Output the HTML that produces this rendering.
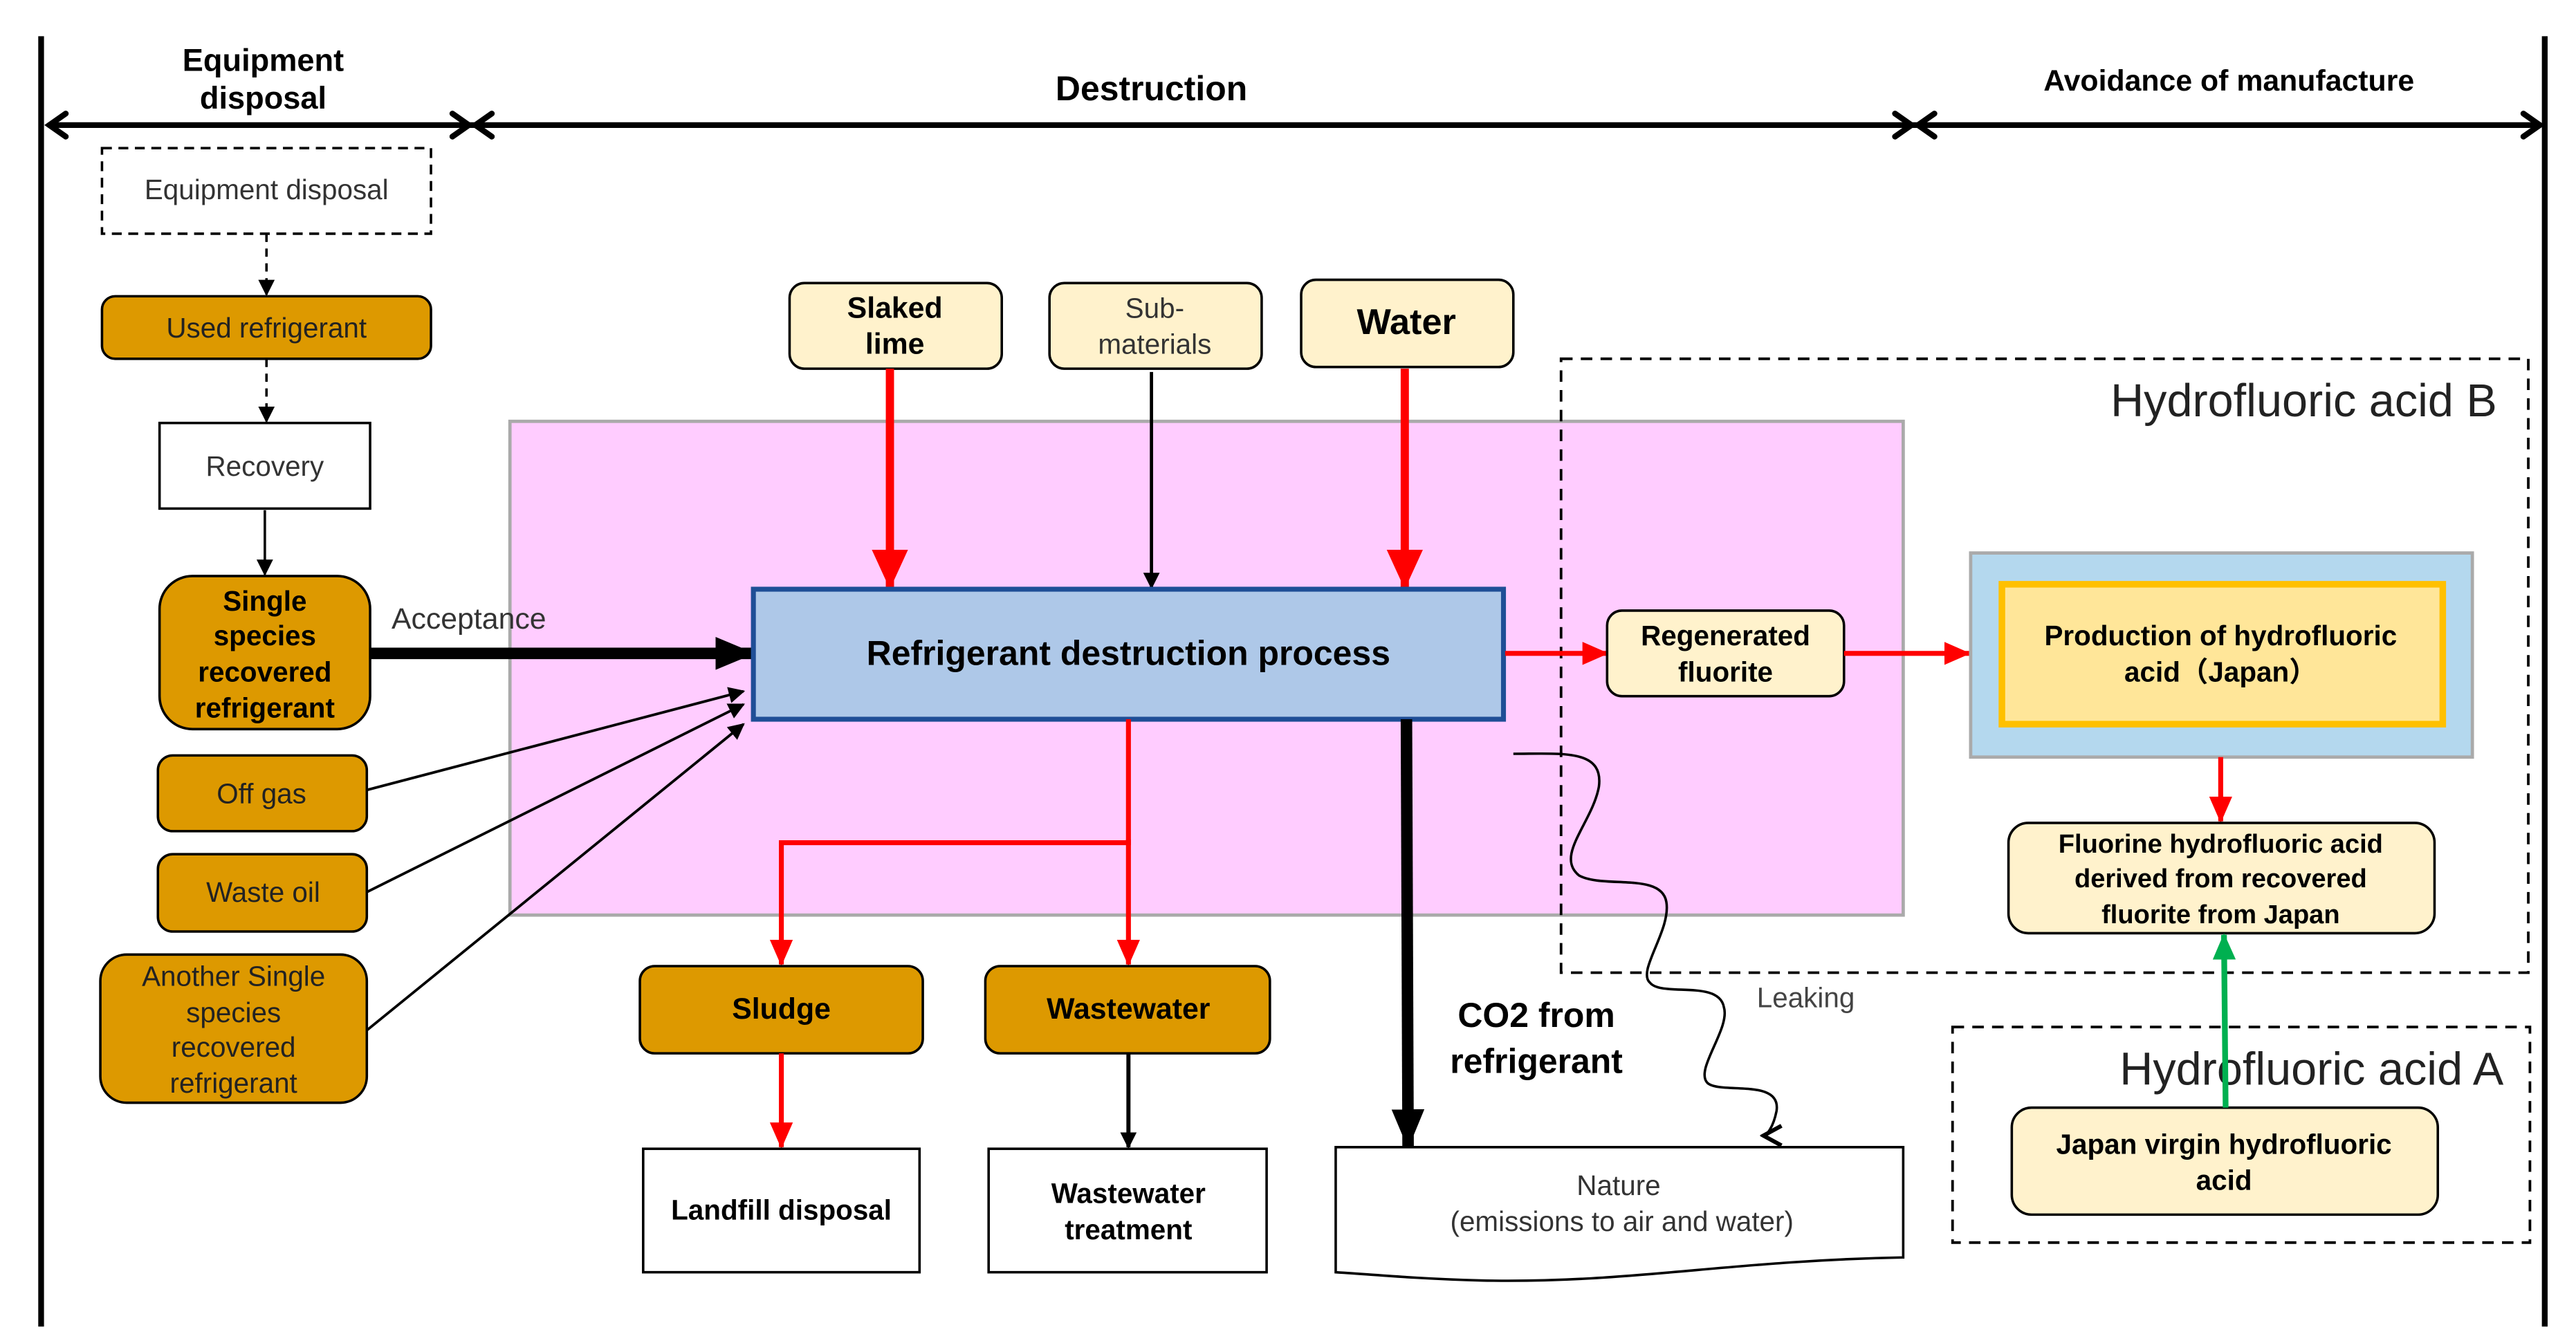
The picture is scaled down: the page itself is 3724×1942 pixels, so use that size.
<!DOCTYPE html>
<html><head><meta charset="utf-8"><style>
html,body{margin:0;padding:0;background:#fff;}
svg{display:block;}
text{font-family:"Liberation Sans","Noto Sans CJK JP",sans-serif;}
</style></head><body>
<svg width="3724" height="1942" viewBox="0 0 1566 816" preserveAspectRatio="none" xmlns="http://www.w3.org/2000/svg">
<defs>
<marker id="ab" markerWidth="10" markerHeight="10" refX="9" refY="5" orient="auto" markerUnits="userSpaceOnUse"><path d="M0,0 L10,5 L0,10 z" fill="#000"/></marker>
<marker id="abig" markerWidth="24" markerHeight="20" refX="23" refY="10" orient="auto" markerUnits="userSpaceOnUse"><path d="M0,0 L24,10 L0,20 z" fill="#000"/></marker>
<marker id="ar" markerWidth="16" markerHeight="14" refX="15" refY="7" orient="auto" markerUnits="userSpaceOnUse"><path d="M0,0 L16,7 L0,14 z" fill="#f00"/></marker>
<marker id="arb" markerWidth="24" markerHeight="22" refX="23" refY="11" orient="auto" markerUnits="userSpaceOnUse"><path d="M0,0 L24,11 L0,22 z" fill="#f00"/></marker>
<marker id="ag" markerWidth="16" markerHeight="14" refX="15" refY="7" orient="auto" markerUnits="userSpaceOnUse"><path d="M0,0 L16,7 L0,14 z" fill="#00b050"/></marker>
<marker id="open" markerWidth="14" markerHeight="14" refX="12" refY="7" orient="auto" markerUnits="userSpaceOnUse"><path d="M1,1 L12,7 L1,13" fill="none" stroke="#000" stroke-width="2.5"/></marker>
</defs>
<line x1="25" y1="22" x2="25" y2="806" stroke="#000" stroke-width="3.5"/>
<line x1="1547" y1="22" x2="1547" y2="806" stroke="#000" stroke-width="3.5"/>
<g stroke="#000" stroke-width="3.5" fill="none" stroke-linecap="round">
<line x1="30" y1="76" x2="1544" y2="76"/>
<polyline points="40,69 30,76 40,83"/>
<polyline points="275,69 285,76 275,83"/>
<polyline points="299,69 289,76 299,83"/>
<polyline points="1152,69 1162,76 1152,83"/>
<polyline points="1176,69 1166,76 1176,83"/>
<polyline points="1534,69 1544,76 1534,83"/>
</g>
<text x="160" y="43" font-size="19" font-weight="bold" text-anchor="middle">Equipment</text>
<text x="160" y="66" font-size="19" font-weight="bold" text-anchor="middle">disposal</text>
<text x="700" y="61" font-size="21" font-weight="bold" text-anchor="middle">Destruction</text>
<text x="1355" y="55" font-size="18" font-weight="bold" text-anchor="middle">Avoidance of manufacture</text>

<rect x="310" y="256" width="847" height="300" fill="#ffccff" stroke="#aaa" stroke-width="2"/>
<rect x="949" y="218" width="588" height="373" fill="none" stroke="#000" stroke-width="1.6" stroke-dasharray="7,5"/>
<text x="1518" y="253" font-size="28" text-anchor="end" fill="#222">Hydrofluoric acid B</text>
<rect x="1187" y="624" width="351" height="131" fill="none" stroke="#000" stroke-width="1.6" stroke-dasharray="7,5"/>
<text x="1522" y="659" font-size="28" text-anchor="end" fill="#222">Hydrofluoric acid A</text>

<rect x="62" y="90" width="200" height="52" fill="#fff" stroke="#000" stroke-width="1.5" stroke-dasharray="6,4"/>
<text x="162" y="121" font-size="17" text-anchor="middle" fill="#333">Equipment disposal</text>
<line x1="162" y1="142" x2="162" y2="179" stroke="#000" stroke-width="1.5" stroke-dasharray="5,4" marker-end="url(#ab)"/>
<rect x="62" y="180" width="200" height="38" rx="8" fill="#dd9900" stroke="#000" stroke-width="1.5"/>
<text x="162" y="205" font-size="17" text-anchor="middle" fill="#222">Used refrigerant</text>
<line x1="162" y1="218" x2="162" y2="256" stroke="#000" stroke-width="1.5" stroke-dasharray="5,4" marker-end="url(#ab)"/>
<rect x="97" y="257" width="128" height="52" fill="#fff" stroke="#000" stroke-width="1.5"/>
<text x="161" y="289" font-size="17" text-anchor="middle" fill="#333">Recovery</text>
<line x1="161" y1="310" x2="161" y2="349" stroke="#000" stroke-width="1.5" marker-end="url(#ab)"/>
<rect x="97" y="350" width="128" height="93" rx="20" fill="#dd9900" stroke="#000" stroke-width="1.5"/>
<g font-size="17" font-weight="bold" text-anchor="middle"><text x="161" y="371">Single</text><text x="161" y="392">species</text><text x="161" y="414">recovered</text><text x="161" y="436">refrigerant</text></g>
<text x="238" y="382" font-size="18" fill="#333">Acceptance</text>
<line x1="225" y1="397" x2="458" y2="397" stroke="#000" stroke-width="7" marker-end="url(#abig)"/>
<rect x="96" y="459" width="127" height="46" rx="9" fill="#dd9900" stroke="#000" stroke-width="1.5"/>
<text x="159" y="488" font-size="17" text-anchor="middle" fill="#222">Off gas</text>
<rect x="96" y="519" width="127" height="47" rx="9" fill="#dd9900" stroke="#000" stroke-width="1.5"/>
<text x="160" y="548" font-size="17" text-anchor="middle" fill="#222">Waste oil</text>
<rect x="61" y="580" width="162" height="90" rx="16" fill="#dd9900" stroke="#000" stroke-width="1.5"/>
<g font-size="17" text-anchor="middle" fill="#222"><text x="142" y="599">Another Single</text><text x="142" y="621">species</text><text x="142" y="642">recovered</text><text x="142" y="664">refrigerant</text></g>
<g stroke="#000" stroke-width="1.6" marker-end="url(#ab)">
<line x1="223" y1="480" x2="452" y2="420"/>
<line x1="223" y1="542" x2="452" y2="428"/>
<line x1="223" y1="626" x2="452" y2="440"/>
</g>

<rect x="480" y="172" width="129" height="52" rx="9" fill="#fff2cc" stroke="#000" stroke-width="1.5"/>
<g font-size="18" font-weight="bold" text-anchor="middle"><text x="544" y="193">Slaked</text><text x="544" y="215">lime</text></g>
<rect x="638" y="172" width="129" height="52" rx="9" fill="#fff2cc" stroke="#000" stroke-width="1.5"/>
<g font-size="17" text-anchor="middle" fill="#333"><text x="702" y="193">Sub-</text><text x="702" y="215">materials</text></g>
<rect x="791" y="170" width="129" height="53" rx="9" fill="#fff2cc" stroke="#000" stroke-width="1.5"/>
<text x="855" y="203" font-size="22" font-weight="bold" text-anchor="middle">Water</text>
<line x1="541" y1="224" x2="541" y2="357" stroke="#f00" stroke-width="5" marker-end="url(#arb)"/>
<line x1="700" y1="226" x2="700" y2="357" stroke="#000" stroke-width="2" marker-end="url(#ab)"/>
<line x1="854" y1="224" x2="854" y2="357" stroke="#f00" stroke-width="5" marker-end="url(#arb)"/>

<rect x="458" y="358" width="456" height="79" fill="#aec8e8" stroke="#1f4e96" stroke-width="3"/>
<text x="686" y="404" font-size="21" font-weight="bold" text-anchor="middle">Refrigerant destruction process</text>

<line x1="915" y1="397" x2="977" y2="397" stroke="#f00" stroke-width="3" marker-end="url(#ar)"/>
<rect x="977" y="371" width="144" height="52" rx="9" fill="#fff2cc" stroke="#000" stroke-width="1.5"/>
<g font-size="17" font-weight="bold" text-anchor="middle"><text x="1049" y="392">Regenerated</text><text x="1049" y="414">fluorite</text></g>
<line x1="1121" y1="397" x2="1197" y2="397" stroke="#f00" stroke-width="3" marker-end="url(#ar)"/>
<rect x="1198" y="336" width="305" height="124" fill="#b4d8ee" stroke="#aaa" stroke-width="2"/>
<rect x="1217" y="355" width="268" height="85" fill="#ffe699" stroke="#ffc000" stroke-width="4"/>
<g font-size="17" font-weight="bold" text-anchor="middle"><text x="1350" y="392">Production of hydrofluoric</text><text x="1350" y="414">acid（Japan）</text></g>
<line x1="1350" y1="460" x2="1350" y2="499" stroke="#f00" stroke-width="3" marker-end="url(#ar)"/>
<rect x="1221" y="500" width="259" height="67" rx="12" fill="#fff2cc" stroke="#000" stroke-width="1.5"/>
<g font-size="16" font-weight="bold" text-anchor="middle"><text x="1350" y="518">Fluorine hydrofluoric acid</text><text x="1350" y="539">derived from recovered</text><text x="1350" y="561">fluorite from Japan</text></g>
<rect x="1223" y="673" width="259" height="65" rx="12" fill="#fff2cc" stroke="#000" stroke-width="1.5"/>
<g font-size="17" font-weight="bold" text-anchor="middle"><text x="1352" y="701">Japan virgin hydrofluoric</text><text x="1352" y="723">acid</text></g>
<line x1="1353" y1="673" x2="1352" y2="568" stroke="#00b050" stroke-width="3.5" marker-end="url(#ag)"/>

<polyline points="686,437 686,512 475,512 475,586" fill="none" stroke="#f00" stroke-width="3" marker-end="url(#ar)"/>
<line x1="686" y1="510" x2="686" y2="586" stroke="#f00" stroke-width="3" marker-end="url(#ar)"/>
<rect x="389" y="587" width="172" height="53" rx="9" fill="#dd9900" stroke="#000" stroke-width="1.5"/>
<text x="475" y="619" font-size="18" font-weight="bold" text-anchor="middle">Sludge</text>
<rect x="599" y="587" width="173" height="53" rx="9" fill="#dd9900" stroke="#000" stroke-width="1.5"/>
<text x="686" y="619" font-size="18" font-weight="bold" text-anchor="middle">Wastewater</text>
<line x1="475" y1="640" x2="475" y2="697" stroke="#f00" stroke-width="3" marker-end="url(#ar)"/>
<line x1="686" y1="640" x2="686" y2="697" stroke="#000" stroke-width="2.5" marker-end="url(#ab)"/>
<rect x="391" y="698" width="168" height="75" fill="#fff" stroke="#000" stroke-width="1.5"/>
<text x="475" y="741" font-size="17" font-weight="bold" text-anchor="middle">Landfill disposal</text>
<rect x="601" y="698" width="169" height="75" fill="#fff" stroke="#000" stroke-width="1.5"/>
<g font-size="17" font-weight="bold" text-anchor="middle"><text x="686" y="731">Wastewater</text><text x="686" y="753">treatment</text></g>
<line x1="855" y1="437" x2="856" y2="697" stroke="#000" stroke-width="7" marker-end="url(#abig)"/>
<g font-size="21" font-weight="bold" text-anchor="middle"><text x="934" y="624">CO2 from</text><text x="934" y="652">refrigerant</text></g>
<path d="M812,697 L1157,697 L1157,764 C1050,766 990,780 900,778 C860,777 830,774 812,773 Z" fill="#fff" stroke="#000" stroke-width="1.5"/>
<g font-size="17" text-anchor="middle" fill="#333"><text x="984" y="726">Nature</text><text x="986" y="748">(emissions to air and water)</text></g>

<path d="M920,458 C950,458 975,455 972,478 C968,500 945,520 960,532 C975,540 1010,530 1013,548 C1016,565 995,590 1003,597 C1010,606 1045,595 1048,612 C1052,625 1030,650 1038,658 C1046,665 1083,655 1080,675 C1078,685 1074,690 1072,690" fill="none" stroke="#000" stroke-width="1.5" marker-end="url(#open)"/>
<text x="1068" y="612" font-size="17" fill="#444">Leaking</text>
</svg>
</body></html>
